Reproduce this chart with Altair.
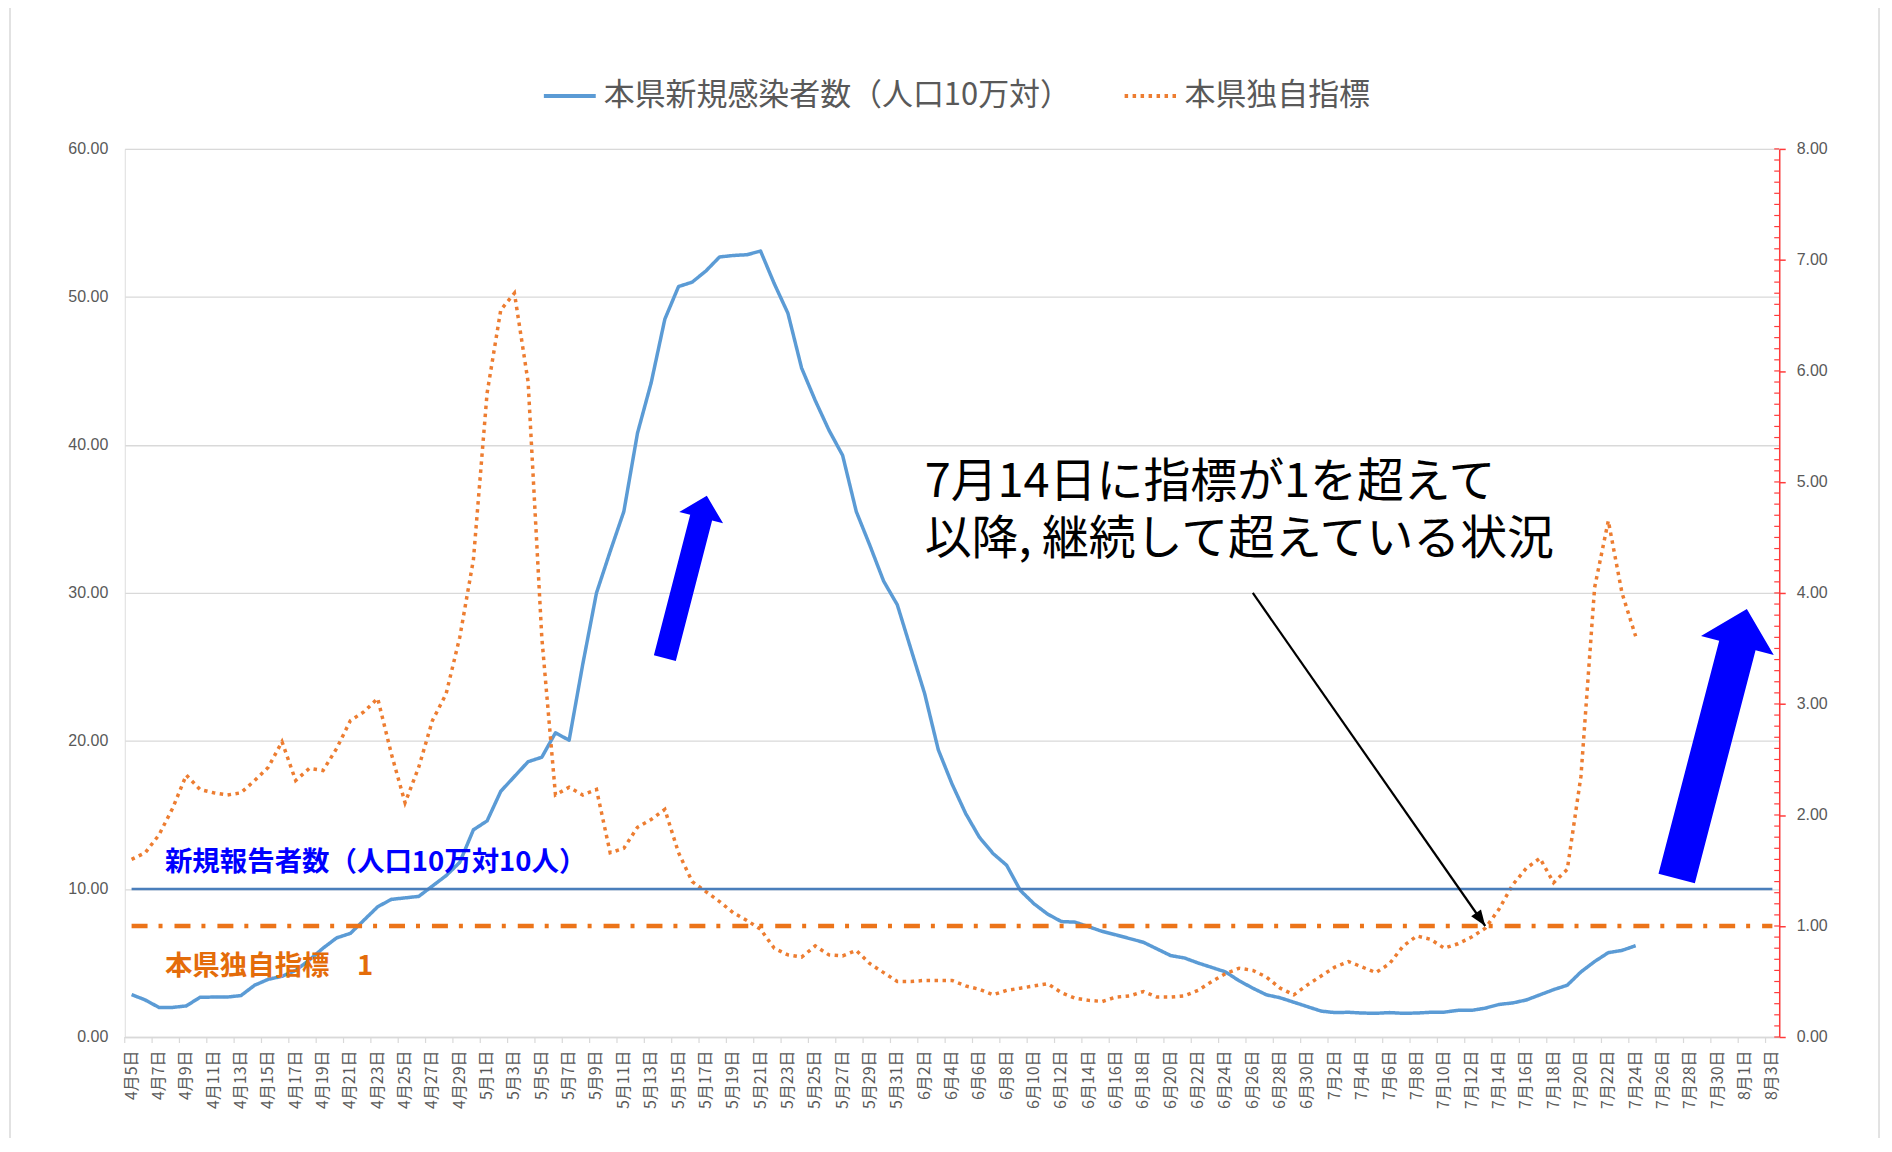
import altair as alt
import pandas as pd

# ---------------- data ----------------
month_spans = [(4, 5, 30), (5, 1, 31), (6, 1, 30), (7, 1, 31), (8, 1, 3)]
dates = [f"{m}月{d}日" for m, a, b in month_spans for d in range(a, b + 1)]

# 本県新規感染者数（人口10万対） 4/5 .. 7/24
cases = [
    2.87, 2.5, 2.0, 2.0, 2.1, 2.68, 2.7, 2.7, 2.8, 3.5,
    3.9, 4.1, 4.5, 5.2, 6.0, 6.7, 7.0, 7.9, 8.8, 9.3,
    9.4, 9.5, 10.2, 10.9, 11.8, 14.0, 14.6, 16.6, 17.6, 18.6,
    18.9, 20.55, 20.05, 25.2, 30.0, 32.8, 35.5, 40.8, 44.2, 48.5,
    50.7, 51.0, 51.75, 52.7, 52.8, 52.85, 53.1, 50.9, 48.9, 45.2,
    43.0, 41.0, 39.3, 35.5, 33.2, 30.8, 29.2, 26.2, 23.2, 19.4,
    17.1, 15.1, 13.5, 12.4, 11.6, 9.9, 9.0, 8.3, 7.8, 7.76,
    7.45, 7.13, 6.9, 6.65, 6.4, 5.95, 5.5, 5.34, 5.0, 4.7,
    4.4, 3.8, 3.3, 2.85, 2.65, 2.35, 2.05, 1.75, 1.65, 1.67,
    1.62, 1.6, 1.65, 1.6, 1.62, 1.67, 1.68, 1.8, 1.8, 1.95,
    2.2, 2.3, 2.5, 2.85, 3.2, 3.5, 4.4, 5.1, 5.7, 5.85,
    6.17,
]

# 本県独自指標 4/5 .. 7/24
indicator = [
    1.60, 1.66, 1.82, 2.06, 2.36, 2.23, 2.20, 2.18, 2.20, 2.31,
    2.43, 2.66, 2.31, 2.42, 2.40, 2.60, 2.85, 2.93, 3.05, 2.55,
    2.11, 2.43, 2.85, 3.09, 3.6, 4.3, 5.8, 6.55, 6.7, 5.9,
    3.6, 2.18, 2.25, 2.18, 2.23, 1.66, 1.70, 1.89, 1.96, 2.05,
    1.66, 1.40, 1.31, 1.22, 1.12, 1.05, 0.97, 0.80, 0.74, 0.72,
    0.82, 0.74, 0.73, 0.78, 0.66, 0.58, 0.50, 0.50, 0.51, 0.51,
    0.51, 0.46, 0.43, 0.38, 0.42, 0.44, 0.46, 0.48, 0.40, 0.35,
    0.33, 0.32, 0.36, 0.37, 0.41, 0.36, 0.36, 0.37, 0.42, 0.50,
    0.57, 0.62, 0.60, 0.54, 0.44, 0.38, 0.47, 0.55, 0.63, 0.68,
    0.63, 0.58, 0.66, 0.82, 0.91, 0.88, 0.80, 0.84, 0.90, 0.98,
    1.15, 1.37, 1.52, 1.61, 1.39, 1.51, 2.35, 4.05, 4.65, 4.0,
    3.61,
]

left_ticks = [0, 10, 20, 30, 40, 50, 60]
right_ticks = [0, 1, 2, 3, 4, 5, 6, 7, 8]
right_minor = [i / 10 for i in range(81)]

S1 = "本県新規感染者数（人口10万対）"
S2 = "本県独自指標"

cases_threshold = 10
indicator_threshold = 1.0

# ---------------- layout ----------------
W, H = 1658, 890
FONT = "Noto Sans CJK JP"
GRAY = "#595959"
RED = "#ff3b3b"
BLUE_LINE = "#5b9bd5"
ORANGE_LINE = "#ed7d31"

cases_df = pd.DataFrame({"date": dates[:len(cases)], "value": cases, "series": S1})
ind_df = pd.DataFrame({"date": dates[:len(indicator)], "value": indicator, "series": S2})
th10_df = pd.DataFrame({"date": [dates[0], dates[-1]], "v": [cases_threshold] * 2})
th1_df = pd.DataFrame({"date": [dates[0], dates[-1]], "v": [indicator_threshold] * 2})
tick_df = pd.DataFrame({"date": dates[::2]})
minor_df = pd.DataFrame({"v": right_minor})

x_scale = alt.Scale(type="band", domain=dates, paddingInner=0, paddingOuter=0)
x_axis = alt.Axis(values=dates[::2], labelAngle=-90, labelFontSize=16, labelColor=GRAY,
                  labelFont=FONT, labelPadding=13, ticks=False, tickSize=0,
                  domainColor="#d9d9d9", domainWidth=1.5, grid=False, title=None,
                  labelOverlap=False)
X = alt.X("date:N", scale=x_scale, axis=x_axis)

yl_scale = alt.Scale(domain=[0, 60], nice=False, zero=True)
yl_axis = alt.Axis(values=left_ticks, format=".2f", orient="left", labelFontSize=16,
                   labelColor=GRAY, labelFont="Liberation Sans", labelPadding=17,
                   ticks=False, domain=False, grid=True,
                   gridColor="#d9d9d9", gridWidth=1.3, title=None)
yr_scale = alt.Scale(domain=[0, 8], nice=False, zero=True)
yr_axis = alt.Axis(values=right_ticks, format=".2f", orient="right", labelFontSize=16,
                   labelColor=GRAY, labelFont="Liberation Sans", labelPadding=11,
                   ticks=True, tickSize=6, tickColor=RED, tickWidth=1.5, domain=True,
                   domainColor=RED, domainWidth=1.5, grid=False, title=None)

legend = alt.Legend(title=None, orient="none", legendX=418, legendY=-81,
                    direction="horizontal", labelFontSize=31, labelColor=GRAY,
                    labelFont=FONT, symbolType="stroke", symbolSize=2704,
                    symbolStrokeWidth=4, columnPadding=45, labelOffset=6,
                    labelLimit=1000)
color_scale = alt.Scale(domain=[S1, S2], range=[BLUE_LINE, ORANGE_LINE])
dash_scale = alt.Scale(domain=[S1, S2], range=[[1, 0], [3.5, 4.5]])


def yl(field):
    return alt.Y(field, scale=yl_scale, axis=None)


def yr(field):
    return alt.Y(field, scale=yr_scale, axis=None)


# ---------------- layers ----------------
frame = alt.Chart(pd.DataFrame({"k": [0]})).mark_rect(
    fill=None, stroke="#d9d9d9", strokeWidth=1.5).encode(
    x=alt.value(-115), x2=alt.value(W + 100), y=alt.value(-142), y2=alt.value(H + 150))

blue_line = alt.Chart(cases_df).mark_line(strokeWidth=3.5, strokeJoin="round").encode(
    x=X,
    y=alt.Y("value:Q", scale=yl_scale, axis=yl_axis),
    color=alt.Color("series:N", scale=color_scale, legend=legend),
    strokeDash=alt.StrokeDash("series:N", scale=dash_scale, legend=legend),
)

orange_line = alt.Chart(ind_df).mark_line(strokeWidth=3.5).encode(
    x=X,
    y=alt.Y("value:Q", scale=yr_scale, axis=yr_axis),
    color=alt.Color("series:N", scale=color_scale, legend=legend),
    strokeDash=alt.StrokeDash("series:N", scale=dash_scale, legend=legend),
)

blue10 = alt.Chart(th10_df).mark_line(color="#4a7ebb", strokeWidth=2.5).encode(
    x=X, y=yl("v:Q"))

orange_th = alt.Chart(th1_df).mark_line(color="#ec7419", strokeWidth=4.5,
                                        strokeDash=[16, 11, 4, 12]).encode(
    x=X, y=yr("v:Q"))

minor = alt.Chart(minor_df).mark_rule(color=RED, strokeWidth=1.2).encode(
    y=yr("v:Q"), x=alt.value(W - 5), x2=alt.value(W))

x_ticks = alt.Chart(tick_df).mark_rule(color="#d9d9d9", strokeWidth=1.2).encode(
    x=alt.X("date:N", scale=x_scale, axis=x_axis, bandPosition=0),
    y=alt.value(H), y2=alt.value(H + 6))

blue_note = alt.Chart(pd.DataFrame({"date": [dates[2]], "v": [11.77],
                                    "t": ["新規報告者数（人口10万対10人）"]})).mark_text(
    align="left", baseline="middle", dx=6, fontSize=27.5, fontWeight="bold",
    color="#0000ff", font=FONT).encode(x=X, y=yl("v:Q"), text="t:N")

orange_note = alt.Chart(pd.DataFrame({"date": [dates[2]], "v": [4.72],
                                      "t": ["本県独自指標　1"]})).mark_text(
    align="left", baseline="middle", dx=6, fontSize=27.5, fontWeight="bold",
    color="#e46c0a", font=FONT).encode(x=X, y=yl("v:Q"), text="t:N")

big_note = alt.Chart(pd.DataFrame({"date": [dates[58]], "v": [37.45],
                                   "t": ["7月14日に指標が1を超えて\n以降, 継続して超えている状況"]})).mark_text(
    align="left", baseline="middle", fontSize=47, lineBreak="\n", lineHeight=57,
    color="#000000", font=FONT).encode(x=X, y=yl("v:Q"), text="t:N")

black_line = alt.Chart(pd.DataFrame({"date": [dates[82], dates[99]], "v": [30.0, 7.5]})).mark_line(
    color="#000000", strokeWidth=2.2).encode(x=X, y=yl("v:Q"))

black_head = alt.Chart(pd.DataFrame({"date": [dates[99]], "v": [7.5]})).mark_point(
    shape="M0,0L0.75,2L-0.75,2Z", size=256, filled=True, color="#000000",
    opacity=1, angle=145).encode(x=X, y=yl("v:Q"))

ARROW = "M-0.135,0L-0.135,-1.73L-0.27,-1.73L0,-2L0.27,-1.73L0.135,-1.73L0.135,0Z"
arrow1 = alt.Chart(pd.DataFrame({"date": [dates[39]], "v": [25.6]})).mark_point(
    shape=ARROW, size=28224, filled=True, color="#0000ff", opacity=1, angle=14.5,
    strokeWidth=0).encode(x=X, y=yl("v:Q"))
arrow2 = alt.Chart(pd.DataFrame({"date": [dates[113]], "v": [10.71]})).mark_point(
    shape=ARROW, size=77841, filled=True, color="#0000ff", opacity=1, angle=14.6,
    strokeWidth=0).encode(x=X, y=yl("v:Q"))

chart = alt.layer(
    blue_line, orange_line, frame, blue10, orange_th, minor, x_ticks,
    blue_note, orange_note, big_note, black_line, black_head, arrow1, arrow2,
).resolve_scale(y="independent").properties(
    width=W, height=H,
    padding={"left": 117, "top": 140, "right": 105, "bottom": 100},
    autosize=alt.AutoSizeParams(type="none"),
    background="white",
).configure_view(stroke=None).configure(font=FONT)

chart.save("out.html", embed_options={"renderer": "svg", "actions": False})
